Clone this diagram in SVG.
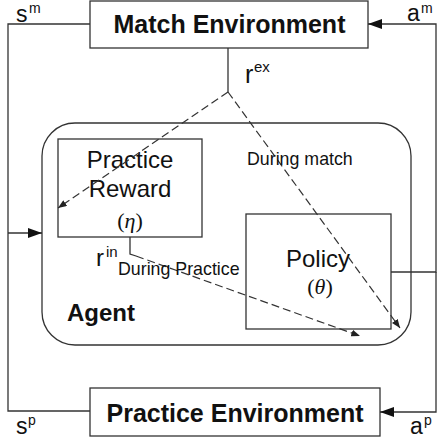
<svg xmlns="http://www.w3.org/2000/svg" width="437" height="442" viewBox="0 0 437 442">
<defs>
<style>
.box{fill:#fff;stroke:#333;stroke-width:1.3}
.ln{fill:none;stroke:#333;stroke-width:1.3}
.dash{fill:none;stroke:#333;stroke-width:1.2;stroke-dasharray:8 4}
.t{font-family:"Liberation Sans",Arial,sans-serif;fill:#111}
.b{font-weight:bold}
.m{font-family:"Liberation Serif","Times New Roman",serif;fill:#111}
</style>
<marker id="ah" viewBox="0 0 14 10" refX="14" refY="5" markerWidth="14" markerHeight="10" markerUnits="userSpaceOnUse" orient="auto">
<path d="M0,0 L14,5 L0,10 Z" fill="#111"/>
</marker>
<marker id="sh" viewBox="0 0 10 8" refX="10" refY="4" markerWidth="9" markerHeight="7" markerUnits="userSpaceOnUse" orient="auto">
<path d="M0,0 L10,4 L0,8 Z" fill="#222"/>
</marker>
</defs>
<rect width="437" height="442" fill="#fff"/>
<g id="agent">
<rect class="box" x="42" y="123" width="369" height="222" rx="33" ry="33"/>
<text class="t b" x="67" y="321" font-size="24">Agent</text>
</g>
<g id="match-env">
<rect class="box" x="90" y="1" width="278" height="47"/>
<text class="t b" x="229.5" y="33" font-size="25" text-anchor="middle">Match Environment</text>
</g>
<g id="practice-env">
<rect class="box" x="90" y="388" width="290" height="48"/>
<text class="t b" x="235" y="422" font-size="25" text-anchor="middle">Practice Environment</text>
</g>
<g id="practice-reward">
<rect class="box" x="58" y="139" width="144" height="98"/>
<text class="t" x="130" y="168" font-size="24" text-anchor="middle">Practice</text>
<text class="t" x="130" y="197" font-size="24" text-anchor="middle">Reward</text>
<text class="m" x="130" y="228" font-size="22" text-anchor="middle">(<tspan font-style="italic">η</tspan>)</text>
</g>
<g id="policy">
<rect class="box" x="246" y="214" width="145" height="115"/>
<text class="t" x="318" y="267" font-size="24" text-anchor="middle">Policy</text>
<text class="m" x="320" y="294" font-size="22" text-anchor="middle">(<tspan font-style="italic">θ</tspan>)</text>
</g>
<g id="connectors">
<path class="ln" d="M90,24 H8 V411 H90"/>
<path class="ln" d="M8,233 H42" marker-end="url(#ah)"/>
<path class="ln" d="M391,272 H436 V24 H368" marker-end="url(#ah)"/>
<path class="ln" d="M436,272 V412 H380" marker-end="url(#ah)"/>
<path class="ln" d="M228,48 V92"/>
<path class="dash" d="M228,92 L58,208" marker-end="url(#sh)"/>
<path class="dash" d="M228,92 L400,328" marker-end="url(#sh)"/>
<path class="ln" d="M130,237 V254 L136,256"/>
<path class="dash" d="M136,256 L360,336" marker-end="url(#sh)"/>
</g>
<g id="labels">
<text class="t" x="16" y="22" font-size="23">s</text>
<text class="t" x="29" y="13" font-size="14">m</text>
<text class="t" x="407" y="21" font-size="23">a</text>
<text class="t" x="421" y="13" font-size="14">m</text>
<text class="t" x="16" y="434" font-size="23">s</text>
<text class="t" x="28" y="425" font-size="14">p</text>
<text class="t" x="410" y="434" font-size="23">a</text>
<text class="t" x="424" y="425" font-size="14">p</text>
<text class="t" x="245" y="83" font-size="25">r</text>
<text class="t" x="254" y="72" font-size="15">ex</text>
<text class="t" x="96" y="266" font-size="24">r</text>
<text class="t" x="106" y="257" font-size="15">in</text>
<text class="t" x="247" y="165" font-size="17.8">During match</text>
<text class="t" x="118" y="275" font-size="17.8">During Practice</text>
</g>
</svg>
